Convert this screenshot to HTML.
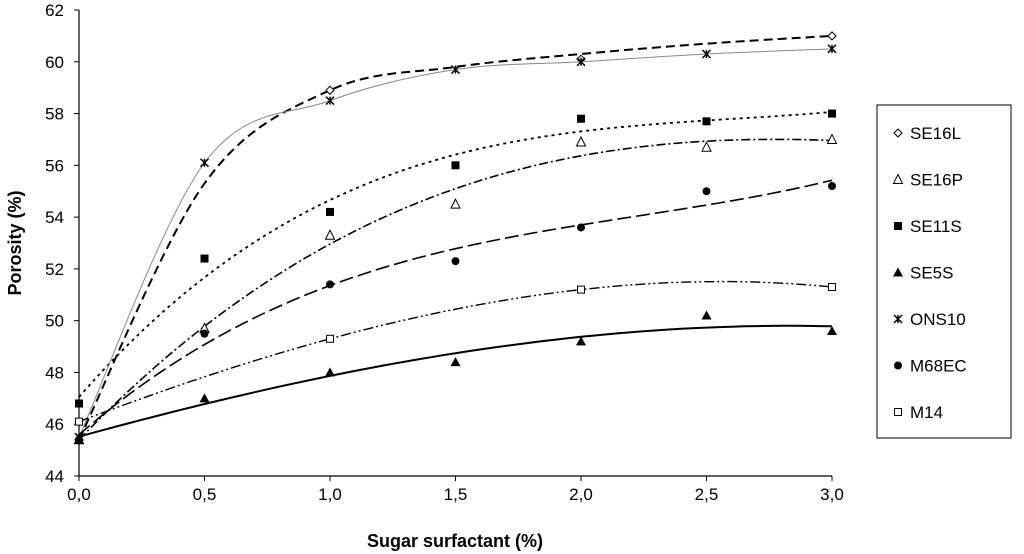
<!DOCTYPE html>
<html><head><meta charset="utf-8"><style>
body{margin:0;background:#fff;}
svg{display:block;font-family:"Liberation Sans",Arial,sans-serif;}
</style></head><body>
<svg id="chart" width="1024" height="554">
<g id="axes"></g><g id="series"></g><g id="legend"></g>
<text x="455" y="547" text-anchor="middle" font-size="18" font-weight="bold">Sugar surfactant (%)</text>
<text transform="translate(21,243) rotate(-90)" text-anchor="middle" font-size="18" font-weight="bold">Porosity (%)</text>
</svg>
<script>
const xs = [0, 0.5, 1.0, 1.5, 2.0, 2.5, 3.0];
const xTicks = ["0,0","0,5","1,0","1,5","2,0","2,5","3,0"];
const yTicks = [44,46,48,50,52,54,56,58,60,62];
const seriesNames = ["SE16L","SE16P","SE11S","SE5S","ONS10","M68EC","M14"];
const se16l = [45.4, null, 58.9, null, 60.1, null, 61.0];
const se16p = [45.4, 49.7, 53.3, 54.5, 56.9, 56.7, 57.0];
const se11s = [46.8, 52.4, 54.2, 56.0, 57.8, 57.7, 58.0];
const se5s  = [45.4, 47.0, 48.0, 48.4, 49.2, 50.2, 49.6];
const ons10 = [45.5, 56.1, 58.5, 59.7, 60.0, 60.3, 60.5];
const m68ec = [45.4, 49.5, 51.4, 52.3, 53.6, 55.0, 55.2];
const m14   = [46.1, null, 49.3, null, 51.2, null, 51.3];
const se16lTrend = [45.4, 55.3, 58.9, 59.8, 60.3, 60.7, 61.0];

const X = v => 79 + v/3*753;
const Y = v => 476 - (v-44)/18*466;
const NS="http://www.w3.org/2000/svg";
function mk(tag, attrs, parent){const e=document.createElementNS(NS,tag);for(const k in attrs)e.setAttribute(k,attrs[k]);parent.appendChild(e);return e;}
const axes=document.getElementById('axes');
let a=mk('line',{x1:79,y1:10,x2:79,y2:476,stroke:'#000','stroke-width':1.2},axes);


a=mk('line',{x1:79,y1:476,x2:832,y2:476,stroke:'#000','stroke-width':1.2},axes);


yTicks.forEach(t=>{
  mk('line',{x1:74,x2:79,y1:Y(t),y2:Y(t),stroke:'#000'},axes);
  const tx=mk('text',{x:64,y:Y(t)+6,'text-anchor':'end','font-size':17},axes);tx.textContent=t;
  
  
});
xs.forEach((v,i)=>{
  mk('line',{x1:X(v),x2:X(v),y1:476,y2:481,stroke:'#000'},axes);
  const tx=mk('text',{x:X(v),y:500,'text-anchor':'middle','font-size':17},axes);tx.textContent=xTicks[i];
  
  
});
const styles=[
 {d:se16l,t:'spline',td:se16lTrend,m:'diamond',dash:'9,5',w:2,c:'#000'},
 {d:se16p,t:'poly',m:'otri',dash:'9,3,2,3',w:1.6,c:'#000'},
 {d:se11s,t:'poly',m:'fsq',dash:'3,4',w:1.8,c:'#000'},
 {d:se5s,t:'poly',m:'ftri',dash:'',w:2,c:'#000'},
 {d:ons10,t:'spline',m:'star',dash:'',w:1,c:'#888'},
 {d:m68ec,t:'poly',m:'circle',dash:'14,5',w:1.6,c:'#000'},
 {d:m14,t:'poly',m:'osq',dash:'10,3,2,3,2,3',w:1.4,c:'#000'}];
function path(pts){
  let d=`M${pts[0][0]},${pts[0][1]}`;
  for(let i=0;i<pts.length-1;i++){
    const p0=pts[i-1]||pts[i],p1=pts[i],p2=pts[i+1],p3=pts[i+2]||p2;
    d+=` C${p1[0]+(p2[0]-p0[0])/6},${p1[1]+(p2[1]-p0[1])/6} ${p2[0]-(p3[0]-p1[0])/6},${p2[1]-(p3[1]-p1[1])/6} ${p2[0]},${p2[1]}`;
  }
  return d;
}
function polyfit(px,py,deg){
  const n=deg+1,A=[],b=[];
  for(let i=0;i<n;i++){A.push(new Array(n).fill(0));b.push(0);}
  px.forEach((x,k)=>{for(let i=0;i<n;i++){b[i]+=py[k]*Math.pow(x,i);for(let j=0;j<n;j++)A[i][j]+=Math.pow(x,i+j);}});
  for(let i=0;i<n;i++){let p=i;for(let r=i+1;r<n;r++)if(Math.abs(A[r][i])>Math.abs(A[p][i]))p=r;
    [A[i],A[p]]=[A[p],A[i]];[b[i],b[p]]=[b[p],b[i]];
    for(let r=0;r<n;r++)if(r!==i){const f=A[r][i]/A[i][i];for(let j=i;j<n;j++)A[r][j]-=f*A[i][j];b[r]-=f*b[i];}}
  return b.map((v,i)=>v/A[i][i]);
}
function marker(type,x,y,g){
  let e;
  if(type==='diamond')e=mk('polygon',{points:`${x},${y-4} ${x+4},${y} ${x},${y+4} ${x-4},${y}`,fill:'#fff',stroke:'#000'},g);
  else if(type==='otri')e=mk('polygon',{points:`${x},${y-5} ${x+4.5},${y+4} ${x-4.5},${y+4}`,fill:'#fff',stroke:'#000'},g);
  else if(type==='ftri')e=mk('polygon',{points:`${x},${y-5} ${x+5},${y+4} ${x-5},${y+4}`,fill:'#000'},g);
  else if(type==='fsq')e=mk('rect',{x:x-4,y:y-4,width:8,height:8,fill:'#000'},g);
  else if(type==='osq')e=mk('rect',{x:x-3.5,y:y-3.5,width:7,height:7,fill:'#fff',stroke:'#000'},g);
  else if(type==='circle')e=mk('circle',{cx:x,cy:y,r:4,fill:'#000'},g);
  else {e=mk('path',{d:`M${x-4},${y-4}L${x+4},${y+4}M${x+4},${y-4}L${x-4},${y+4}M${x},${y-4}L${x},${y+4}`,stroke:'#000','stroke-width':1.5},g);}
  return e;
}
const sg=document.getElementById('series');
styles.forEach((s,si)=>{
  const g=mk('g',{},sg);
  
  
  const pts=[],vx=[],vy=[];
  xs.forEach((x,i)=>{if(s.d[i]!=null){pts.push([X(x),Y(s.d[i])]);vx.push(x);vy.push(s.d[i]);}});
  let d;
  if(s.t==='poly'){
    const c=polyfit(vx,vy,3);let lp=[];
    for(let k=0;k<=60;k++){const x=3*k/60;let v=0;c.forEach((ci,i)=>v+=ci*Math.pow(x,i));lp.push([X(x),Y(v)]);}
    d='M'+lp.map(p=>p[0].toFixed(1)+','+p[1].toFixed(1)).join(' L');
  } else {
    const src=s.td||s.d;const lp=[];xs.forEach((x,i)=>{if(src[i]!=null)lp.push([X(x),Y(src[i])]);});
    d=path(lp);
  }
  const p=mk('path',{d:d,fill:'none',stroke:s.c,'stroke-width':s.w,'stroke-dasharray':s.dash},g);
  
  
  pts.forEach(q=>{const m=marker(s.m,q[0],q[1],g);
    
    });
});
const lg=document.getElementById('legend');
const box=mk('rect',{x:877,y:105,width:134,height:333,fill:'#fff',stroke:'#000'},lg);


seriesNames.forEach((n,i)=>{
  const y=133+i*46.5;
  const g=mk('g',{},lg);
  
  
  marker(styles[i].m,898,y,g);
  const t=mk('text',{x:910,y:y+6,'font-size':17},g);t.textContent=n;
});
</script>
</body></html>
